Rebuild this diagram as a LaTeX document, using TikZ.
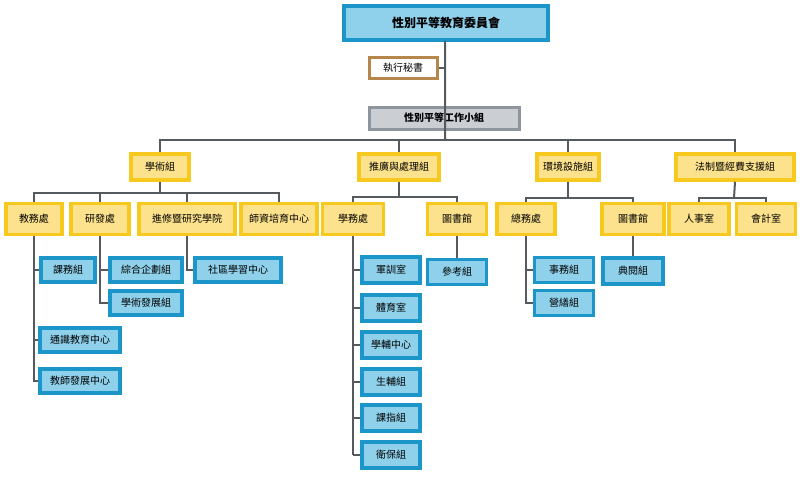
\documentclass[tikz,border=0pt]{standalone}
\usepackage{fontspec}
\setmainfont{Noto Sans CJK TC}
\begin{document}
\begin{tikzpicture}[x=1pt,y=-1pt,
  base/.style={draw,line width=3.5pt,inner sep=0pt,font=\fontsize{10}{12}\selectfont},
  yel/.style={base,fill=yfill,draw=yline},
  blu/.style={base,fill=bfill,draw=bline},
  ln/.style={draw=lgray,line width=2pt}]
\definecolor{yfill}{HTML}{FCE28C}
\definecolor{yline}{HTML}{F7C81E}
\definecolor{bfill}{HTML}{8FD0EA}
\definecolor{bline}{HTML}{1C96C8}
\definecolor{lgray}{HTML}{555A5E}
\definecolor{tan}{HTML}{B5874A}
\definecolor{gfill}{HTML}{CBCED3}
\definecolor{gline}{HTML}{8E959C}
\useasboundingbox (0,0) rectangle (800,477);
\fill[white] (0,0) rectangle (800,477);
% top
\node[base,fill=bfill,draw=bline,minimum width=204pt,minimum height=34pt,font=\fontsize{12}{14}\selectfont\bfseries] (top) at (446,23) {性別平等教育委員會};
\node[base,fill=white,draw=tan,line width=3pt,minimum width=68pt,minimum height=21pt] (sec) at (403,68) {執行秘書};
\node[base,fill=gfill,draw=gline,line width=3pt,minimum width=150pt,minimum height=22pt,font=\fontsize{10}{12}\selectfont\bfseries] (wg) at (444,118) {性別平等工作小組};
\coordinate (t1) at (445,140);
\draw[ln] (top.south) -- (445,42) -- (t1);
\draw[ln] (sec.east) -- (445,68);
% level 2
\node[yel,minimum width=58pt,minimum height=26pt] (a) at (160,167) {學術組};
\node[yel,minimum width=80pt,minimum height=26pt] (b) at (399,167) {推廣與處理組};
\node[yel,minimum width=62pt,minimum height=26pt] (c) at (568,167) {環境設施組};
\node[yel,minimum width=118pt,minimum height=26pt] (d) at (735,167) {法制暨經費支援組};
\draw[ln] (a.north) -- (160,140) -- (735,140) -- (d.north);
\draw[ln] (b.north) -- (399,140);
\draw[ln] (c.north) -- (568,140);
% level 3
\node[yel,minimum width=56pt,minimum height=31pt] (a1) at (34,219) {教務處};
\node[yel,minimum width=58pt,minimum height=31pt] (a2) at (100,219) {研發處};
\node[yel,minimum width=96pt,minimum height=31pt] (a3) at (187,219) {進修暨研究學院};
\node[yel,minimum width=76pt,minimum height=31pt] (a4) at (279,219) {師資培育中心};
\draw[ln] (a.south) -- (160,193);
\draw[ln] (a1.north) -- (34,193) -- (279,193) -- (a4.north);
\draw[ln] (a2.north) -- (100,193);
\draw[ln] (a3.north) -- (187,193);
\node[yel,minimum width=61pt,minimum height=31pt] (b1) at (353,219) {學務處};
\node[yel,minimum width=59pt,minimum height=31pt] (b2) at (457,219) {圖書館};
\draw[ln] (b.south) -- (399,197);
\draw[ln] (b1.north) -- (353,197) -- (457,197) -- (b2.north);
\node[yel,minimum width=58pt,minimum height=31pt] (c1) at (526,219) {總務處};
\node[yel,minimum width=62pt,minimum height=31pt] (c2) at (633,219) {圖書館};
\draw[ln] (c.south) -- (568,198);
\draw[ln] (c1.north) -- (526,198) -- (633,198) -- (c2.north);
\node[yel,minimum width=60pt,minimum height=31pt] (d1) at (699,219) {人事室};
\node[yel,minimum width=59pt,minimum height=31pt] (d2) at (766,219) {會計室};
\draw[ln] (d.south) -- (734,198);
\draw[ln] (d1.north) -- (699,198) -- (766,198) -- (d2.north);
% level 4 academic
\node[blu,minimum width=54pt,minimum height=24pt] (a11) at (68,270) {課務組};
\node[blu,minimum width=80pt,minimum height=24pt] (a12) at (80,340) {通識教育中心};
\node[blu,minimum width=80pt,minimum height=24pt] (a13) at (80,381) {教師發展中心};
\draw[ln] (a1.south) -- (34,381) -- (a13.west);
\draw[ln] (34,270) -- (a11.west);
\draw[ln] (34,340) -- (a12.west);
\node[blu,minimum width=72pt,minimum height=24pt] (a21) at (146,270) {綜合企劃組};
\node[blu,minimum width=72pt,minimum height=24pt] (a22) at (146,303) {學術發展組};
\draw[ln] (a2.south) -- (100,303) -- (a22.west);
\draw[ln] (100,270) -- (a21.west);
\node[blu,minimum width=86pt,minimum height=24pt] (a31) at (238,270) {社區學習中心};
\draw[ln] (a3.south) -- (187,270) -- (a31.west);
% student affairs
\foreach \n/\y/\t in {1/270/軍訓室,2/308/體育室,3/345/學輔中心,4/382/生輔組,5/418/課指組,6/455/衛保組}{
  \node[blu,minimum width=58pt,minimum height=26pt] (b1\n) at (391,\y) {\t};
  \draw[ln] (353,\y) -- (b1\n.west);
}
\draw[ln] (b1.south) -- (353,455);
\node[blu,minimum width=59pt,minimum height=25pt] (b21) at (457,272) {參考組};
\draw[ln] (b2.south) -- (b21.north);
% general affairs
\node[blu,minimum width=59pt,minimum height=25pt] (c11) at (564,270) {事務組};
\node[blu,minimum width=59pt,minimum height=25pt] (c12) at (564,303) {營繕組};
\draw[ln] (c1.south) -- (526,303) -- (c12.west);
\draw[ln] (526,270) -- (c11.west);
\node[blu,minimum width=60pt,minimum height=26pt] (c21) at (633,271) {典閱組};
\draw[ln] (c2.south) -- (c21.north);
\end{tikzpicture}
\end{document}
